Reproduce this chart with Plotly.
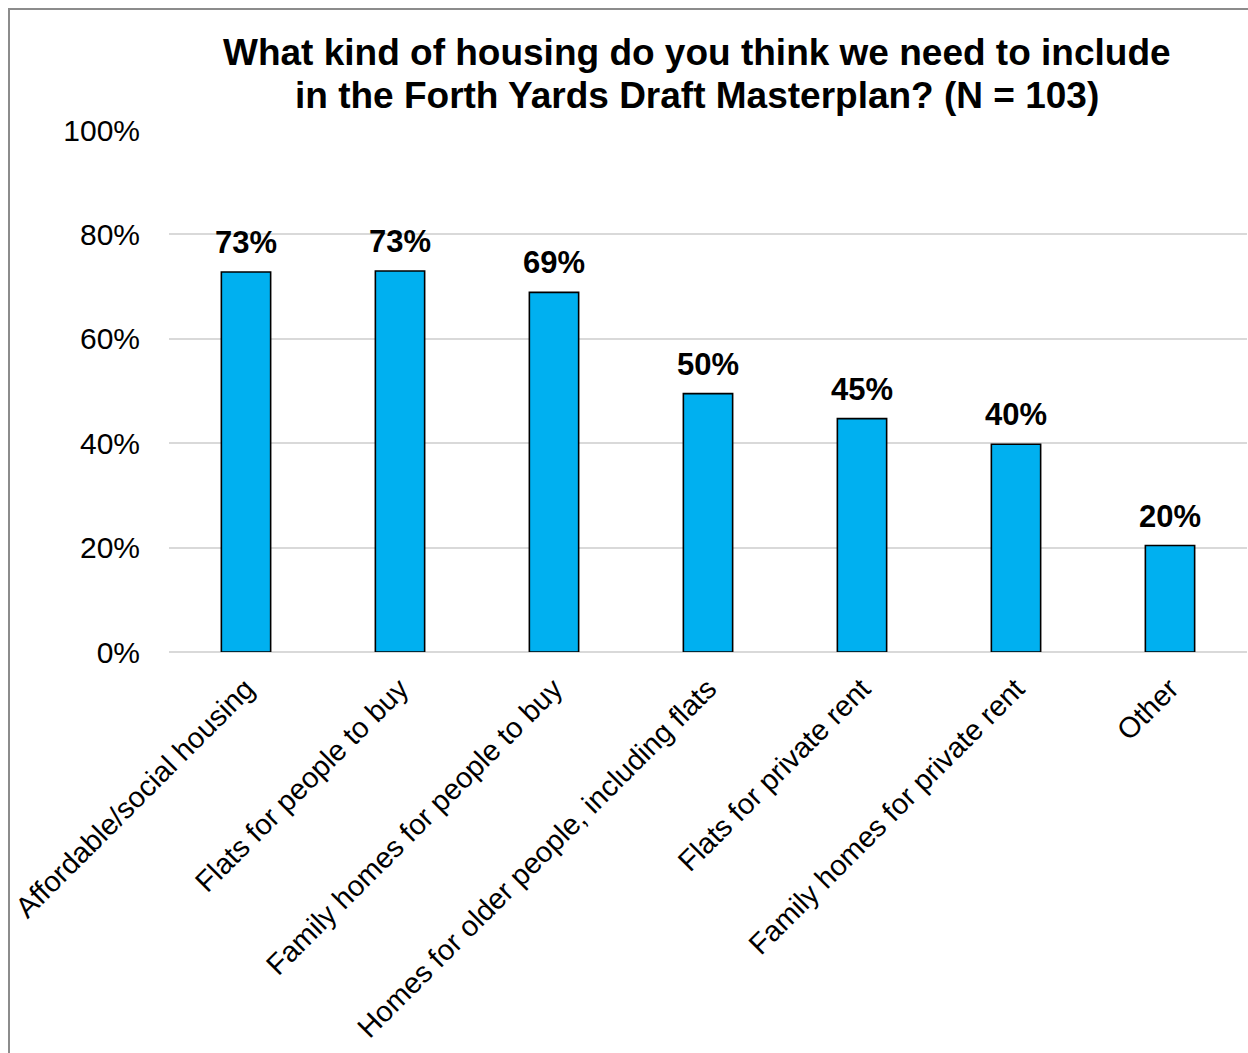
import plotly.graph_objects as go

categories = [
    "Affordable/social housing",
    "Flats for people to buy",
    "Family homes for people to buy",
    "Homes for older people, including flats",
    "Flats for private rent",
    "Family homes for private rent",
    "Other",
]
percent = [72.8, 73.0, 68.9, 49.5, 44.7, 39.8, 20.4]
y_ticks = [0, 20, 40, 60, 80, 100]
y_tick_labels = ["0%", "20%", "40%", "60%", "80%", "100%"]
title_lines = [
    "What kind of housing do you think we need to include",
    "in the Forth Yards Draft Masterplan? (N = 103)",
]

W, H = 1248, 1053
L, R, T, B = 169, 1, 130, 401
pw, ph = W - L - R, H - T - B

def px_x(px):
    return (px - L) / pw

def px_y(py):
    return (H - B - py) / ph

FONT = "Liberation Sans, Arial, sans-serif"

fig = go.Figure(
    go.Bar(
        x=categories,
        y=percent,
        marker=dict(color="#00B0F0", line=dict(color="#000000", width=1.6)),
        hoverinfo="skip",
    )
)

# value labels above each bar
for cat, val in zip(categories, percent):
    fig.add_annotation(
        x=cat,
        y=val,
        text=f"<b>{val:.0f}%</b>",
        showarrow=False,
        yanchor="bottom",
        yshift=10,
        font=dict(family=FONT, size=31, color="#000000"),
    )

# two-line bold title
for i, line in enumerate(title_lines):
    fig.add_annotation(
        xref="paper",
        yref="paper",
        x=px_x(697),
        y=px_y(67 + 43 * i),
        text=f"<b>{line}</b>",
        showarrow=False,
        xanchor="center",
        yanchor="bottom",
        yshift=-8,
        font=dict(family=FONT, size=37, color="#000000"),
    )

fig.update_layout(
    width=W,
    height=H,
    margin=dict(l=L, r=R, t=T, b=B),
    paper_bgcolor="white",
    plot_bgcolor="white",
    bargap=0.68,
    showlegend=False,
    font=dict(family=FONT, color="#000000"),
    xaxis=dict(
        tickangle=-45,
        tickfont=dict(family=FONT, size=29, color="#000000"),
        showline=False,
        showgrid=False,
        ticks="",
        ticklabelstandoff=13,
    ),
    yaxis=dict(
        range=[0, 100],
        tickvals=y_ticks,
        ticktext=y_tick_labels,
        tickfont=dict(family=FONT, size=30, color="#000000"),
        showgrid=True,
        gridcolor="#D9D9D9",
        gridwidth=1.5,
        zeroline=True,
        zerolinecolor="#D9D9D9",
        zerolinewidth=1.5,
        showline=False,
        ticks="",
        ticklabelstandoff=28,
    ),
    shapes=[
        dict(
            type="rect",
            xref="paper",
            yref="paper",
            x0=px_x(9),
            x1=px_x(1300),
            y0=px_y(1100),
            y1=px_y(9),
            line=dict(color="#8C8C8C", width=2),
            fillcolor="rgba(0,0,0,0)",
            layer="below",
        )
    ],
)

fig.write_html("out.html")
